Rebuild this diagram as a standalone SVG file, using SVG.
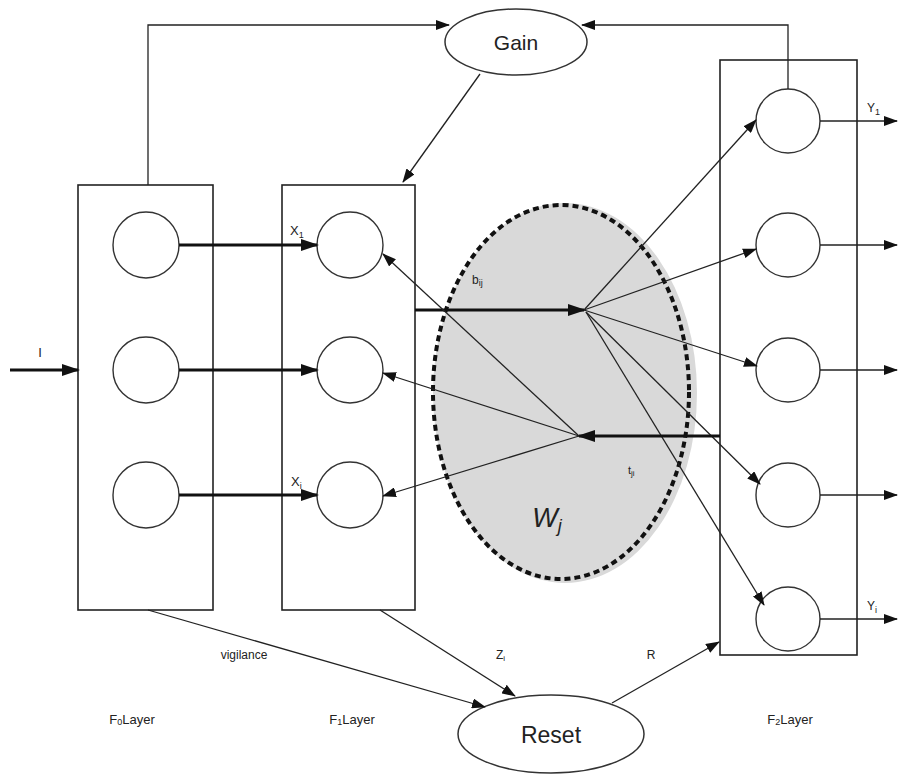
<svg xmlns="http://www.w3.org/2000/svg" width="900" height="778" viewBox="0 0 900 778">
  <defs>
    <marker id="ah" markerWidth="14" markerHeight="10" refX="13" refY="5" orient="auto" markerUnits="userSpaceOnUse">
      <path d="M0,0 L14,5 L0,10 z" fill="#111"/>
    </marker>
    <marker id="ahBig" markerWidth="18" markerHeight="12" refX="16" refY="6" orient="auto" markerUnits="userSpaceOnUse">
      <path d="M0,0 L18,6 L0,12 z" fill="#111"/>
    </marker>
  </defs>
  <style>
    .box { fill: none; stroke: #222; stroke-width: 1.6; }
    .unit { fill: #fff; stroke: #333; stroke-width: 1.4; }
    .oval { fill: #fff; stroke: #333; stroke-width: 1.5; }
    .thin { fill: none; stroke: #222; stroke-width: 1.3; marker-end: url(#ah); }
    .thick { fill: none; stroke: #111; stroke-width: 3; marker-end: url(#ahBig); }
    .lbl { font-family: "Liberation Sans", Arial, sans-serif; fill: #222; }
  </style>

  <rect width="900" height="778" fill="#fff"/>

  <!-- weight region W_j -->
  <g id="weights">
    <ellipse cx="565" cy="393" rx="132" ry="190" fill="#d9d9d9"/>
    <ellipse cx="561" cy="392" rx="128" ry="187" fill="none" stroke="#111" stroke-width="4" stroke-dasharray="6,4"/>
    <text class="lbl" x="547" y="527" font-size="27" font-style="italic" text-anchor="middle">W<tspan font-size="18" dy="5">j</tspan></text>
  </g>

  <!-- F0 layer -->
  <g id="f0">
    <rect class="box" x="78" y="185" width="135" height="425"/>
    <circle class="unit" cx="146" cy="245" r="33"/>
    <circle class="unit" cx="146" cy="370" r="33"/>
    <circle class="unit" cx="146" cy="495" r="33"/>
    <text class="lbl" x="132" y="724" font-size="13" text-anchor="middle">F<tspan font-size="9" dy="1">0</tspan><tspan dy="-1">Layer</tspan></text>
  </g>

  <!-- F1 layer -->
  <g id="f1">
    <rect class="box" x="282" y="185" width="133" height="425"/>
    <circle class="unit" cx="350" cy="245" r="33"/>
    <circle class="unit" cx="350" cy="370" r="33"/>
    <circle class="unit" cx="350" cy="495" r="33"/>
    <text class="lbl" x="352" y="724" font-size="13" text-anchor="middle">F<tspan font-size="9" dy="1">1</tspan><tspan dy="-1">Layer</tspan></text>
  </g>

  <!-- F2 layer -->
  <g id="f2">
    <rect class="box" x="720" y="60" width="137" height="595"/>
    <circle class="unit" cx="788" cy="121" r="32"/>
    <circle class="unit" cx="788" cy="245" r="32"/>
    <circle class="unit" cx="788" cy="370" r="32"/>
    <circle class="unit" cx="788" cy="495" r="32"/>
    <circle class="unit" cx="788" cy="619" r="32"/>
    <text class="lbl" x="790" y="724" font-size="13" text-anchor="middle">F<tspan font-size="9" dy="1">2</tspan><tspan dy="-1">Layer</tspan></text>
  </g>

  <!-- gain control -->
  <g id="gain">
    <ellipse class="oval" cx="516" cy="42" rx="71" ry="33"/>
    <text class="lbl" x="516" y="50" font-size="21" text-anchor="middle">Gain</text>
  </g>

  <!-- reset unit -->
  <g id="reset">
    <ellipse class="oval" cx="551" cy="734" rx="93" ry="39"/>
    <text class="lbl" x="551" y="743" font-size="23" text-anchor="middle">Reset</text>
  </g>

  <g id="connectors">
    <!-- input -->
    <line class="thick" x1="10" y1="370" x2="78" y2="370"/>
    <!-- F0 to F1 -->
    <line class="thick" x1="179" y1="245" x2="317" y2="245"/>
    <line class="thick" x1="179" y1="370" x2="317" y2="370"/>
    <line class="thick" x1="179" y1="495" x2="317" y2="495"/>
    <!-- gain loops -->
    <polyline class="thin" points="148,185 148,25 449,25"/>
    <polyline class="thin" points="788,89 788,25 582,25"/>
    <line class="thin" x1="480" y1="74" x2="403" y2="182"/>
    <!-- bottom-up -->
    <line class="thick" x1="415" y1="310" x2="584" y2="310"/>
    <line class="thin" x1="584" y1="310" x2="756" y2="120"/>
    <line class="thin" x1="584" y1="310" x2="756" y2="249"/>
    <line class="thin" x1="584" y1="310" x2="757" y2="366"/>
    <line class="thin" x1="586" y1="312" x2="760" y2="484"/>
    <line class="thin" x1="586" y1="312" x2="764" y2="605"/>
    <!-- top-down -->
    <line class="thick" x1="720" y1="436" x2="579" y2="436"/>
    <line class="thin" x1="579" y1="436" x2="383" y2="254"/>
    <line class="thin" x1="579" y1="436" x2="383" y2="373"/>
    <line class="thin" x1="579" y1="436" x2="383" y2="496"/>
    <!-- outputs -->
    <line class="thin" x1="820" y1="121" x2="897" y2="121"/>
    <line class="thin" x1="820" y1="245" x2="897" y2="245"/>
    <line class="thin" x1="820" y1="370" x2="897" y2="370"/>
    <line class="thin" x1="820" y1="495" x2="897" y2="495"/>
    <line class="thin" x1="820" y1="619" x2="897" y2="619"/>
    <!-- reset paths -->
    <line class="thin" x1="148" y1="610" x2="485" y2="707"/>
    <line class="thin" x1="380" y1="610" x2="515" y2="696"/>
    <line class="thin" x1="612" y1="703" x2="719" y2="642"/>
  </g>

  <!-- labels -->
  <g id="labels">
    <text class="lbl" x="40" y="357" font-size="13" text-anchor="middle">I</text>
    <text class="lbl" x="290" y="235" font-size="13">X<tspan font-size="9" dy="3">1</tspan></text>
    <text class="lbl" x="291" y="486" font-size="13">X<tspan font-size="9" dy="3">i</tspan></text>
    <text class="lbl" x="472" y="284" font-size="12">b<tspan font-size="9" dy="2">ij</tspan></text>
    <text class="lbl" x="628" y="474" font-size="11">t<tspan font-size="8" dy="2">ji</tspan></text>
    <text class="lbl" x="867" y="112" font-size="12">Y<tspan font-size="9" dy="3">1</tspan></text>
    <text class="lbl" x="867" y="610" font-size="12">Y<tspan font-size="9" dy="3">i</tspan></text>
    <text class="lbl" x="244" y="659" font-size="12" text-anchor="middle">vigilance</text>
    <text class="lbl" x="496" y="659" font-size="12">Z<tspan font-size="8" dy="2">i</tspan></text>
    <text class="lbl" x="651" y="659" font-size="12" text-anchor="middle">R</text>
  </g>
</svg>
